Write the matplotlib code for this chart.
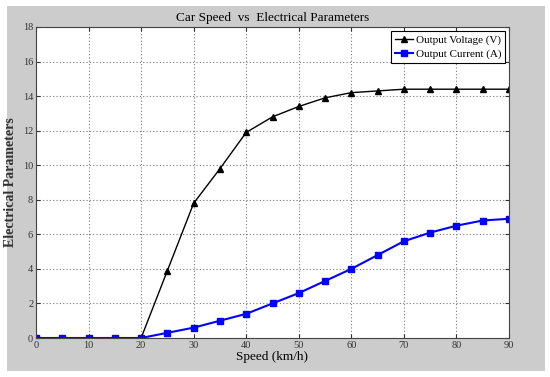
import matplotlib
matplotlib.use("Agg")
import matplotlib.pyplot as plt
from matplotlib.patches import Rectangle

# Dados
speed = [0, 5, 10, 15, 20, 25, 30, 35, 40, 45, 50, 55, 60, 65, 70, 75, 80, 85, 90]
voltage = [0, 0, 0, 0, 0, 3.9, 7.8, 9.8, 11.9, 12.8, 13.4, 13.9, 14.2, 14.3, 14.4,
           14.4, 14.4, 14.4, 14.4]
current = [0, 0, 0, 0, 0, 0.3, 0.6, 1.0, 1.4, 2.0, 2.6, 3.3, 4.0, 4.8, 5.6,
           6.1, 6.5, 6.8, 6.9]
x_ticks = list(range(0, 91, 10))
y_ticks = list(range(0, 19, 2))

plt.rcParams['font.family'] = ['Liberation Serif', 'DejaVu Serif']

W, H = 550, 377
fig = plt.figure(figsize=(W / 100, H / 100), dpi=100, facecolor='white')
# painel cinza estilo MATLAB
fig.patches.append(Rectangle((7 / W, 6 / H), 538 / W, 365 / H,
                             transform=fig.transFigure, facecolor='#cccccc',
                             edgecolor='none', zorder=-5))

ax = fig.add_axes([36 / W, 39 / H, 473 / W, 311 / H])
ax.set_zorder(1)
ax.set_facecolor('white')

ax.plot(speed, voltage, color='black', lw=1.0, marker='^', ms=4.5,
        label='Output Voltage (V)')
ax.plot(speed, current, color='blue', lw=1.5, marker='s', ms=4.5,
        label='Output Current (A)')

ax.set_xlim(0, 90)
ax.set_ylim(0, 18)
ax.set_xticks(x_ticks)
ax.set_yticks(y_ticks)
ax.tick_params(direction='in', top=True, right=True, labelsize=7.5, length=3,
               pad=2, colors='#333333')
ax.grid(True, linestyle=(0, (1, 2)), color='#777777', lw=0.8)

ax.set_title('Car Speed  vs  Electrical Parameters', fontsize=9.5, pad=4)
ax.set_xlabel('Speed (km/h)', fontsize=9.5, labelpad=1)
ax.set_ylabel('Electrical Parameters', fontsize=10, fontweight='bold',
              color='#333333')
ax.yaxis.set_label_coords(-(36 - 17) / 473, 0.5)

for s in ax.spines.values():
    s.set_color('#444444')
    s.set_linewidth(0.8)

leg = ax.legend(loc='upper right', fontsize=8, fancybox=False, framealpha=1,
                edgecolor='black', handlelength=1.6, borderpad=0.35,
                labelspacing=0.4, handletextpad=0.25, borderaxespad=0.35)
leg.get_frame().set_linewidth(0.8)

fig.savefig('out.png', dpi=100)
